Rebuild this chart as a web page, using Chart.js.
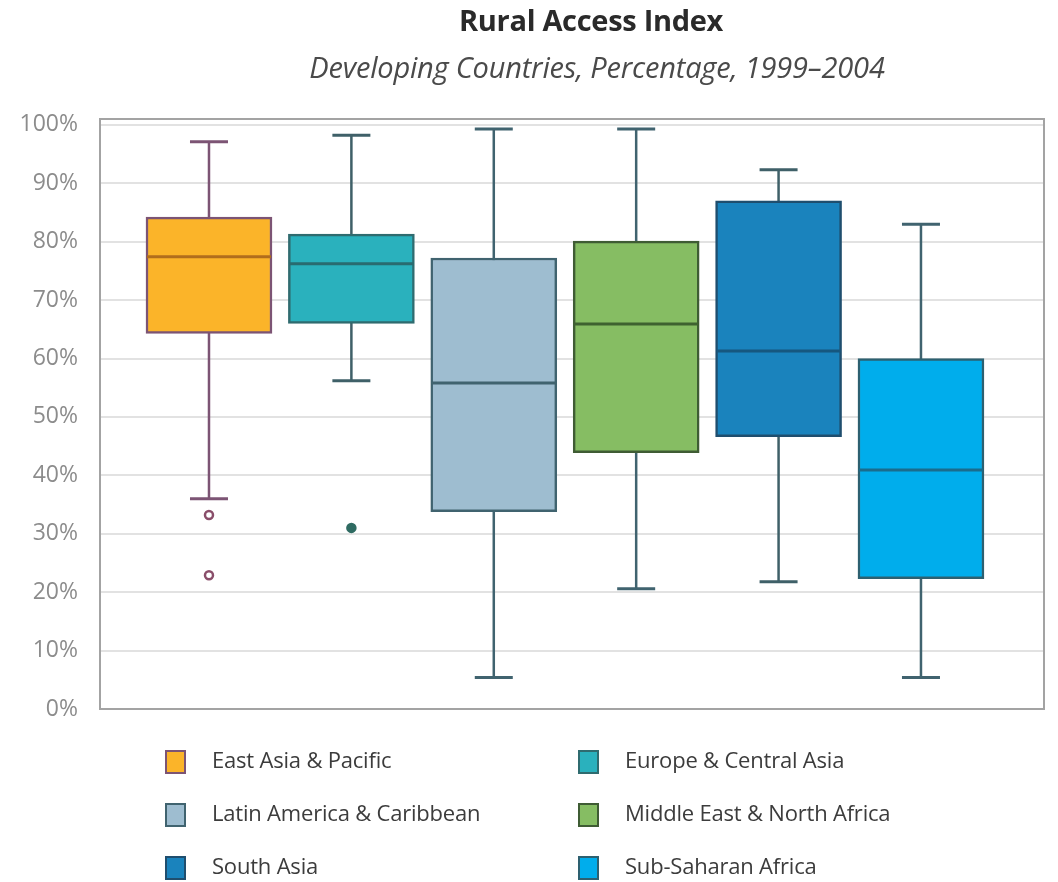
<!DOCTYPE html>
<html>
<head>
<meta charset="utf-8">
<script src="https://cdn.jsdelivr.net/npm/chart.js@4.4.1/dist/chart.umd.min.js"></script>
<style>
  html, body { margin: 0; padding: 0; background: #fff; }
  #wrap { position: relative; width: 1058px; height: 882px; }
  #chart { position: absolute; left: 0; top: 0; }
  .title { position: absolute; left: 0; width: 1058px; text-align: center; font-family: "Open Sans", sans-serif; }
  #t1 { top: 0px; left: 62px; font-size: 29px; font-weight: 700; color: #2a2a2a; letter-spacing: -0.3px; }
  #t2 { top: 47px; left: 68px; font-size: 29px; font-style: italic; color: #4a4a4a; letter-spacing: -0.2px; }
  .leg { position: absolute; font-family: "Open Sans", sans-serif; font-size: 22px; color: #3c3c3c; letter-spacing: -0.2px; }
  .leg span.box { position: absolute; left: 0; top: 0; width: 17px; height: 20px; border: 2px solid #444; }
  .leg span.txt { position: absolute; left: 47px; top: -6px; white-space: nowrap; }
</style>
</head>
<body>
<div id="wrap">
  <canvas id="chart" width="1058" height="882"></canvas>
  <div class="title" id="t1">Rural Access Index</div>
  <div class="title" id="t2">Developing Countries, Percentage, 1999–2004</div>
  <div id="legend"></div>
</div>
<script>
// Regions (one box each)
const regions = ['East Asia & Pacific', 'Europe & Central Asia', 'Latin America & Caribbean',
                 'Middle East & North Africa', 'South Asia', 'Sub-Saharan Africa'];

// Box plot values, percent
const whiskerLow  = [36.0, 56.2,  5.4, 20.6, 21.8,  5.4];
const quartileLow = [64.3, 66.0, 33.8, 43.9, 46.6, 22.3];
const medians     = [77.4, 76.2, 55.8, 65.9, 61.3, 40.9];
const quartileHigh= [84.2, 81.3, 77.2, 80.1, 87.0, 60.0];
const whiskerHigh = [97.1, 98.2, 99.3, 99.3, 92.3, 83.0];

// Outliers: region index, value
const outlierRegion = [0, 0, 1];
const outlierValue  = [33.2, 22.9, 31.0];

const yTicks = [0, 10, 20, 30, 40, 50, 60, 70, 80, 90, 100];

// colours
const fills   = ['#fbb429', '#2ab1bd', '#9ebdd0', '#86bd63', '#1a83bd', '#00adec'];
const borders = ['#7c5474', '#2f6b6f', '#40636f', '#3f5c34', '#1f4e6e', '#2d6070'];
const mids    = ['#b06d1c', '#296b70', '#40636f', '#3e6230', '#16577f', '#1a6c8c'];
const whiskerCol = ['#7c5474', '#3f6068', '#40636f', '#40636f', '#3f6068', '#40636f'];

// legend (html, two columns)
const legend = document.getElementById('legend');
regions.forEach((name, i) => {
    const col = i % 2, row = Math.floor(i / 2);
    const d = document.createElement('div');
    d.className = 'leg';
    d.style.left = (col === 0 ? 165 : 578) + 'px';
    d.style.top = (750 + row * 53) + 'px';
    d.innerHTML = '<span class="box" style="background:' + fills[i] + ';border-color:' + borders[i] +
        '"></span><span class="txt">' + name.replace('&', '&amp;') + '</span>';
    legend.appendChild(d);
});

// whiskers under the boxes, medians on top, plot frame
const boxPlugin = {
    id: 'boxparts',
    beforeDatasetsDraw(chart) {
        const { ctx, scales: { x, y } } = chart;
        ctx.save();
        regions.forEach((r, i) => {
            const cx = x.getPixelForValue(i + 1);
            ctx.strokeStyle = whiskerCol[i];
            ctx.lineWidth = 2.5;
            ctx.beginPath();
            ctx.moveTo(cx, y.getPixelForValue(whiskerLow[i]));
            ctx.lineTo(cx, y.getPixelForValue(whiskerHigh[i]));
            ctx.stroke();
            ctx.lineWidth = 3;
            ctx.beginPath();
            [whiskerLow[i], whiskerHigh[i]].forEach(v => {
                const py = y.getPixelForValue(v);
                ctx.moveTo(cx - 19, py);
                ctx.lineTo(cx + 19, py);
            });
            ctx.stroke();
        });
        ctx.restore();
    },
    afterDatasetsDraw(chart) {
        const { ctx, scales: { y } } = chart;
        const bar = chart.getDatasetMeta(0).data;
        ctx.save();
        ctx.lineWidth = 3;
        regions.forEach((r, i) => {
            const el = bar[i];
            const py = y.getPixelForValue(medians[i]);
            ctx.strokeStyle = mids[i];
            ctx.beginPath();
            ctx.moveTo(el.x - el.width / 2 + 1, py);
            ctx.lineTo(el.x + el.width / 2 - 1, py);
            ctx.stroke();
        });
        ctx.restore();
    },
    afterDraw(chart) {
        const { ctx, chartArea: a } = chart;
        ctx.save();
        ctx.strokeStyle = '#a3a3a3';
        ctx.lineWidth = 2;
        ctx.strokeRect(a.left, a.top, a.right - a.left, a.bottom - a.top);
        ctx.restore();
    }
};

new Chart(document.getElementById('chart'), {
    data: {
        datasets: [{
            type: 'bar',
            data: regions.map((r, i) => ({ x: i + 1, y: [quartileLow[i], quartileHigh[i]] })),
            backgroundColor: fills,
            borderColor: borders,
            borderWidth: 2.5,
            borderSkipped: false,
            barThickness: 126,
            order: 2
        }, {
            type: 'scatter',
            data: outlierRegion.map((r, i) => ({ x: r + 1, y: outlierValue[i] })),
            pointRadius: 4,
            pointBorderWidth: 2.5,
            pointBackgroundColor: ['#ffffff', '#ffffff', '#2f6b62'],
            pointBorderColor: ['#8a4e6a', '#8a4e6a', '#2f6b62'],
            order: 1
        }]
    },
    options: {
        responsive: false,
        animation: false,
        events: [],
        layout: { padding: { top: 119, bottom: 173, right: 14, left: 0 } },
        plugins: { legend: { display: false }, tooltip: { enabled: false } },
        scales: {
            x: {
                type: 'linear',
                min: 0.2346,
                max: 6.864,
                offset: false,
                display: false
            },
            y: {
                min: 0,
                max: 101,
                afterFit(scale) { scale.width = 100; },
                afterBuildTicks(scale) { scale.ticks = yTicks.map(v => ({ value: v })); },
                border: { display: false },
                grid: { color: '#e2e2e2', lineWidth: 2, drawTicks: false },
                ticks: {
                    padding: 22,
                    color: '#8c8c8c',
                    font: { family: 'Open Sans', size: 23 },
                    callback: v => v + '%'
                }
            }
        }
    },
    plugins: [boxPlugin]
});
</script>
</body>
</html>
